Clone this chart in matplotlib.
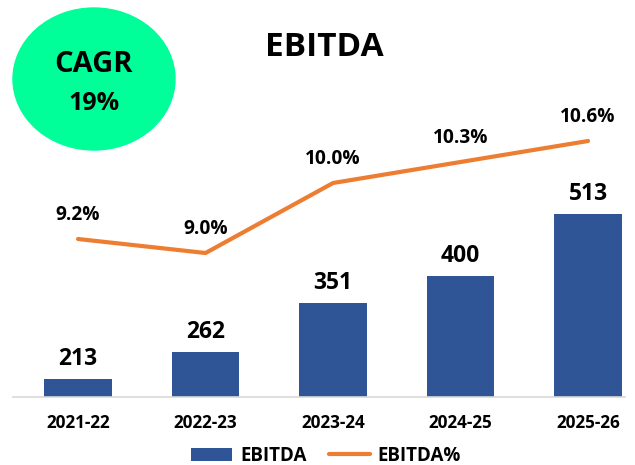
import matplotlib.pyplot as plt
from matplotlib.patches import Ellipse

# %% data
years = ["2021-22", "2022-23", "2023-24", "2024-25", "2025-26"]
ebitda = [213, 262, 351, 400, 513]
ebitda_pct = [9.2, 9.0, 10.0, 10.3, 10.6]

plt.rcParams['font.family'] = ['Open Sans', 'DejaVu Sans']

bar_color = '#2F5597'
line_color = '#ED7D31'

fig = plt.figure(figsize=(6.35, 4.65), dpi=100)
ax = fig.add_axes([13/635, 1 - 397/465, 612/635, 297/465])
x = list(range(len(years)))

bars = ax.bar(x, ebitda, width=0.53, color=bar_color, label='EBITDA', zorder=2)
ax.set_ylim(180, 720)
ax.set_xlim(-0.51, 4.29)
for xi, v in zip(x, ebitda):
    ax.annotate(f"{v}", (xi, v), xytext=(0, 6), textcoords='offset points',
                ha='center', va='bottom', fontsize=16.5, fontweight='bold')

ax2 = ax.twinx()
ln, = ax2.plot(x, ebitda_pct, color=line_color, lw=3, label='EBITDA%',
               solid_capstyle='round', zorder=3)
ax2.set_ylim(9.0 - 144/70, 9.0 + 153/70)
for xi, v in zip(x, ebitda_pct):
    ax2.annotate(f"{v:.1f}%", (xi, v), xytext=(0, 10), textcoords='offset points',
                 ha='center', va='bottom', fontsize=13.8, fontweight='bold')

for a in (ax, ax2):
    for s in ('top', 'right', 'left'):
        a.spines[s].set_visible(False)
    a.set_yticks([])
ax2.spines['bottom'].set_visible(False)
ax.spines['bottom'].set_color('#D9D9D9')
ax.spines['bottom'].set_linewidth(1.2)
ax.set_xticks(x)
ax.set_xticklabels(years, fontsize=12.3, fontweight='bold')
ax.tick_params(axis='x', length=0, pad=12)

# title and CAGR bubble
fig.text(324/635, 1 - 47/465, "EBITDA", ha='center', va='center',
         fontsize=24, fontweight='bold')
ell = Ellipse((94/635, 1 - 79/465), 162/635, 142/465, transform=fig.transFigure,
              color='#00FF99', zorder=0)
fig.patches.append(ell)
fig.text(94/635, 1 - 64/465, "CAGR", ha='center', va='center',
         fontsize=21, fontweight='bold')
fig.text(94/635, 1 - 103/465, "19%", ha='center', va='center',
         fontsize=18, fontweight='bold')

fig.legend(handles=[bars, ln], loc='center', bbox_to_anchor=(326/635, 1 - 456/465),
           ncol=2, frameon=False, prop={'weight': 'bold', 'size': 13.5},
           handlelength=2.2, columnspacing=1.2, handletextpad=0.4)

fig.savefig('out.png', dpi=100)
